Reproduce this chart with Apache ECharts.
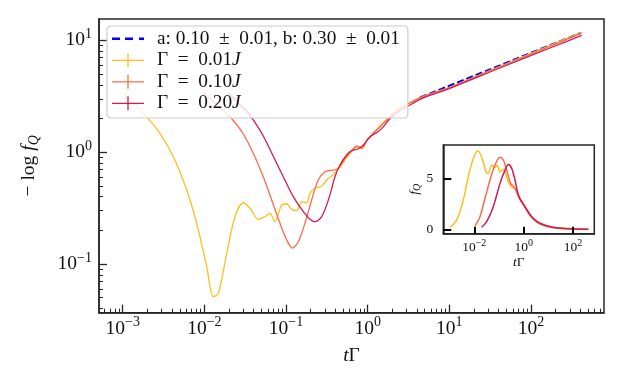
<!DOCTYPE html>
<html><head><meta charset="utf-8">
<script src="https://cdn.jsdelivr.net/npm/echarts@6/dist/echarts.min.js"></script>
<style>html,body{margin:0;padding:0;background:#fff}#c{width:623px;height:387px}</style>
</head><body><div id="c"></div>
<script>
// ---------- data ----------
const seriesNames = ['a: 0.10 ± 0.01, b: 0.30 ± 0.01', 'Γ = 0.01J', 'Γ = 0.10J', 'Γ = 0.20J'];
const colors = ['#0000ff', '#fdbf1e', '#fc6a4b', '#d01c55'];

// main panel: t*Gamma vs -log f_Q
const fitT = [4.37, 398];
const fitY = [3.07, 11.55];

const t001 = [0.001, 0.00179, 0.00286, 0.00417, 0.00608, 0.00806, 0.01069, 0.01286, 0.01483, 0.0188, 0.0237, 0.030, 0.0362, 0.0458, 0.0553, 0.0637, 0.0733, 0.0885, 0.102, 0.1174, 0.135, 0.1556, 0.179, 0.1967, 0.2265, 0.2735, 0.330, 0.379, 0.425, 0.458, 0.553, 0.667, 0.760, 0.852, 0.973, 1.172, 1.416, 1.710, 2.061, 2.489, 3.296, 4.797, 10.19, 41.7, 171, 418];
const q001 = [3.38, 2.22, 1.474, 0.911, 0.459, 0.231, 0.0946, 0.051, 0.0547, 0.1247, 0.265, 0.353, 0.315, 0.251, 0.265, 0.284, 0.239, 0.337, 0.344, 0.308, 0.2996, 0.3606, 0.353, 0.4285, 0.475, 0.498, 0.583, 0.625, 0.703, 0.732, 0.896, 1.045, 1.123, 1.078, 1.259, 1.483, 1.714, 1.96, 2.239, 2.48, 2.78, 3.157, 3.82, 5.85, 8.99, 11.79];

const t010 = [0.0097, 0.0139, 0.0218, 0.030, 0.0397, 0.0527, 0.0668, 0.0844, 0.102, 0.120, 0.1413, 0.1705, 0.206, 0.248, 0.300, 0.356, 0.418, 0.458, 0.553, 0.667, 0.733, 0.845, 0.973, 1.172, 1.416, 1.710, 2.061, 2.489, 3.296, 4.797, 10.19, 41.7, 171, 418];
const q010 = [3.40, 2.69, 1.98, 1.453, 0.977, 0.603, 0.373, 0.231, 0.164, 0.139, 0.158, 0.231, 0.373, 0.564, 0.668, 0.686, 0.703, 0.751, 0.924, 1.067, 1.135, 1.089, 1.259, 1.483, 1.68, 1.938, 2.216, 2.455, 2.751, 3.145, 3.80, 5.80, 8.82, 11.62];

const t020 = [0.0196, 0.0273, 0.0333, 0.0405, 0.0527, 0.0699, 0.0926, 0.1228, 0.163, 0.197, 0.2265, 0.2735, 0.336, 0.398, 0.458, 0.553, 0.637, 0.740, 0.884, 1.018, 1.172, 1.349, 1.553, 1.789, 2.16, 2.63, 3.46, 4.797, 10.19, 41.7, 171, 418];
const q020 = [3.40, 2.66, 2.31, 1.90, 1.394, 0.920, 0.603, 0.400, 0.294, 0.251, 0.239, 0.265, 0.389, 0.603, 0.768, 0.943, 1.035, 1.056, 1.158, 1.324, 1.439, 1.531, 1.68, 1.919, 2.193, 2.404, 2.695, 3.05, 3.72, 5.65, 8.53, 11.04];

// inset: t*Gamma vs f_Q
const it001 = [0.00104, 0.00194, 0.00358, 0.00571, 0.0091, 0.01374, 0.01995, 0.0298, 0.0369, 0.0507, 0.069, 0.0855, 0.110, 0.1416, 0.1754, 0.239, 0.328, 0.522, 0.711, 1.135, 1.807, 3.38, 8.6, 29.7, 418];
const if001 = [0.2, 0.92, 2.86, 5.16, 6.94, 7.68, 7.09, 5.62, 5.47, 6.28, 6.05, 6.28, 5.62, 5.86, 5.62, 4.64, 4.15, 3.82, 3.02, 2.21, 1.40, 0.74, 0.32, 0.098, 0.0];
const it010 = [0.01066, 0.0170, 0.0272, 0.0433, 0.069, 0.110, 0.1496, 0.2056, 0.2985, 0.4457, 0.667, 1.135, 1.807, 3.38, 8.6, 29.7, 418];
const if010 = [0.32, 1.24, 3.04, 4.83, 6.30, 7.05, 6.79, 5.81, 4.50, 4.01, 3.03, 2.15, 1.35, 0.70, 0.27, 0.08, 0.0];
const it020 = [0.01995, 0.0318, 0.0589, 0.110, 0.1754, 0.239, 0.328, 0.4457, 0.607, 0.834, 1.245, 2.12, 4.60, 15.9, 103, 417];
const if020 = [0.2, 0.75, 2.22, 4.50, 5.80, 6.36, 5.97, 4.83, 3.36, 2.71, 2.06, 1.24, 0.59, 0.196, 0.03, 0.0];

// tick labels (powers of ten)
const mainXTicks = [-3, -2, -1, 0, 1, 2];
const mainYTicks = [-1, 0, 1];
const insetXTicks = [-2, 0, 2];
const insetYTicks = [0, 5];

// ---------- helpers ----------
const FONT = 'Liberation Serif';
const INK = '#111';
const FRAME = '#262626';
const L = Math.log10;
const logPts = (xs, ys) => xs.map((x, i) => [L(x), L(ys[i])]);
const semiPts = (xs, ys) => xs.map((x, i) => [L(x), ys[i]]);
const pow10 = v => { v = Math.round(v); return '{b|10}{s|' + (v < 0 ? '\u2212' + (-v) : v) + '}'; };
function minorTicks(lo, hi) {
  const out = [];
  for (let k = -5; k <= 3; k++) for (let m = 2; m <= 9; m++) {
    const v = k + L(m);
    if (v > lo && v < hi) out.push(v);
  }
  return out;
}
const XMIN = -3.29, XMAX = 2.894, YMIN = -1.435, YMAX = 1.19;
const IXMIN = -3.256, IXMAX = 2.863, IYMIN = -0.43, IYMAX = 8.26;

const richMain = {
  b: { fontFamily: FONT, fontSize: 19.5, lineHeight: 26, color: INK },
  s: { fontFamily: FONT, fontSize: 14, lineHeight: 15, verticalAlign: 'top', color: INK }
};
const richInset = {
  b: { fontFamily: FONT, fontSize: 13.5, lineHeight: 18, color: INK },
  s: { fontFamily: FONT, fontSize: 10, lineHeight: 10, verticalAlign: 'top', color: INK }
};

const noSplit = { show: false };
function majorAxis(extra) {
  return Object.assign({
    type: 'value', splitLine: noSplit,
    axisLine: { show: true, onZero: false, lineStyle: { color: FRAME, width: 1.5 } }
  }, extra);
}

const crossIcon = 'path://M0,0h0.01v0.01h-0.01z M39.99,13.99h0.01v0.01h-0.01z M0,6.4h32v1.3h-32z M15.35,0h1.3v14h-1.3z';
const dashIcon = 'path://M0,0h0.01v0.01h-0.01z M39.99,13.99h0.01v0.01h-0.01z M0,5.75h8v2.5h-8z M13,5.75h8v2.5h-8z M27,5.75h5v2.5h-5z';

const mainLine = (name, xs, ys, color) => ({
  name, type: 'line', xAxisIndex: 0, yAxisIndex: 0, data: logPts(xs, ys),
  showSymbol: false, symbol: 'none', smooth: 0.3, color,
  lineStyle: { color, width: 1.3 }
});
const insetLine = (name, xs, ys, color) => ({
  name, type: 'line', xAxisIndex: 2, yAxisIndex: 2, data: semiPts(xs, ys),
  showSymbol: false, symbol: 'none', smooth: 0.3, color, z: 8,
  lineStyle: { color, width: 1.5 }
});

const option = {
  animation: false,
  backgroundColor: '#fff',
  grid: [
    { left: 99, top: 19, width: 505, height: 293.7, show: true, borderColor: FRAME, borderWidth: 1.5, containLabel: false, outerBoundsMode: 'none' },
    { left: 443.3, top: 145, width: 151, height: 88.7, show: true, borderColor: FRAME, borderWidth: 1.5, backgroundColor: '#fff', containLabel: false, outerBoundsMode: 'none' }
  ],
  xAxis: [
    majorAxis({
      gridIndex: 0, min: XMIN, max: XMAX, position: 'bottom',
      axisTick: { show: true, inside: true, length: 8, lineStyle: { color: FRAME, width: 1.3 }, customValues: mainXTicks },
      axisLabel: { customValues: mainXTicks, formatter: pow10, margin: 3, rich: richMain, fontFamily: FONT },
      name: '{i|t}{n|Γ}', nameLocation: 'middle', nameGap: 33,
      nameTextStyle: { rich: { i: { fontFamily: FONT, fontSize: 19.5, fontStyle: 'italic', color: INK }, n: { fontFamily: FONT, fontSize: 19.5, color: INK } } }
    }),
    {
      type: 'value', gridIndex: 0, min: XMIN, max: XMAX, position: 'bottom', splitLine: noSplit,
      axisLine: { show: false, onZero: false }, axisLabel: { show: false },
      axisTick: { show: true, inside: true, length: 4, lineStyle: { color: FRAME, width: 1 }, customValues: minorTicks(XMIN, XMAX) }
    },
    majorAxis({
      gridIndex: 1, min: IXMIN, max: IXMAX, position: 'bottom', z: 9,
      axisTick: { show: true, inside: true, length: 7, lineStyle: { color: '#000', width: 2 }, customValues: insetXTicks },
      axisLabel: { customValues: insetXTicks, formatter: pow10, margin: 5, rich: richInset, fontFamily: FONT },
      name: '{i|t}{n|Γ}', nameLocation: 'middle', nameGap: 18,
      nameTextStyle: { rich: { i: { fontFamily: FONT, fontSize: 13.5, fontStyle: 'italic', color: INK }, n: { fontFamily: FONT, fontSize: 13.5, color: INK } } }
    })
  ],
  yAxis: [
    majorAxis({
      gridIndex: 0, min: YMIN, max: YMAX, position: 'left',
      axisTick: { show: true, inside: true, length: 8, lineStyle: { color: FRAME, width: 1.3 }, customValues: mainYTicks },
      axisLabel: { customValues: mainYTicks, formatter: pow10, margin: 7, rich: richMain, fontFamily: FONT },
      name: '{n|\u2212 log }{i|f}{q|Q}', nameLocation: 'middle', nameGap: 58, nameRotate: 90,
      nameTextStyle: { rich: {
        n: { fontFamily: FONT, fontSize: 19.5, lineHeight: 24, color: INK },
        i: { fontFamily: FONT, fontSize: 19.5, lineHeight: 24, fontStyle: 'italic', color: INK },
        q: { fontFamily: FONT, fontSize: 14, lineHeight: 13, fontStyle: 'italic', verticalAlign: 'bottom', color: INK }
      } }
    }),
    {
      type: 'value', gridIndex: 0, min: YMIN, max: YMAX, position: 'left', splitLine: noSplit,
      axisLine: { show: false, onZero: false }, axisLabel: { show: false },
      axisTick: { show: true, inside: true, length: 4, lineStyle: { color: FRAME, width: 1 }, customValues: minorTicks(YMIN, YMAX) }
    },
    majorAxis({
      gridIndex: 1, min: IYMIN, max: IYMAX, position: 'left', z: 9,
      axisTick: { show: true, inside: true, length: 8, lineStyle: { color: '#000', width: 2 }, customValues: insetYTicks },
      axisLabel: { customValues: insetYTicks, margin: 10, fontFamily: FONT, fontSize: 13.5, color: INK },
      name: '{i|f}{q|Q}', nameLocation: 'middle', nameGap: 19, nameRotate: 90,
      nameTextStyle: { rich: {
        i: { fontFamily: FONT, fontSize: 13.5, lineHeight: 17, fontStyle: 'italic', color: INK },
        q: { fontFamily: FONT, fontSize: 10, lineHeight: 10, fontStyle: 'italic', verticalAlign: 'bottom', color: INK }
      } }
    })
  ],
  legend: {
    left: 107, top: 26, orient: 'vertical',
    padding: [2, 8, 4, 5], itemGap: 0, itemWidth: 40, itemHeight: 14,
    backgroundColor: 'rgba(255,255,255,0.8)', borderColor: '#cccccc', borderWidth: 1.2, borderRadius: 4,
    itemStyle: { borderWidth: 0 },
    data: [
      { name: seriesNames[0], icon: dashIcon },
      { name: seriesNames[1], icon: crossIcon },
      { name: seriesNames[2], icon: crossIcon },
      { name: seriesNames[3], icon: crossIcon }
    ],
    formatter: n => {
      const sp = s => s.replace(/ ([±=]) /g, '\u2002$1\u2002');
      return n.startsWith('Γ') ? '{n|' + sp(n.slice(0, -1)) + '}{i|J}' : '{n|' + sp(n) + '}';
    },
    textStyle: {
      fontFamily: FONT, fontSize: 19.3, lineHeight: 21.5, color: INK,
      rich: {
        n: { fontFamily: FONT, fontSize: 19.3, lineHeight: 21.5, color: INK },
        i: { fontFamily: FONT, fontSize: 19.3, lineHeight: 21.5, fontStyle: 'italic', color: INK }
      }
    },
    z: 10
  },
  series: [
    Object.assign(mainLine(seriesNames[0], fitT, fitY, colors[0]), { smooth: false, lineStyle: { color: colors[0], width: 2.2, type: [7, 3] } }),
    mainLine(seriesNames[1], t001, q001, colors[1]),
    mainLine(seriesNames[2], t010, q010, colors[2]),
    mainLine(seriesNames[3], t020, q020, colors[3]),
    insetLine('inset 0.01', it001, if001, colors[1]),
    insetLine('inset 0.10', it010, if010, colors[2]),
    insetLine('inset 0.20', it020, if020, colors[3])
  ]
};

const chart = echarts.init(document.getElementById('c'), null, { renderer: 'canvas' });
chart.setOption(option);
</script>
</body></html>
